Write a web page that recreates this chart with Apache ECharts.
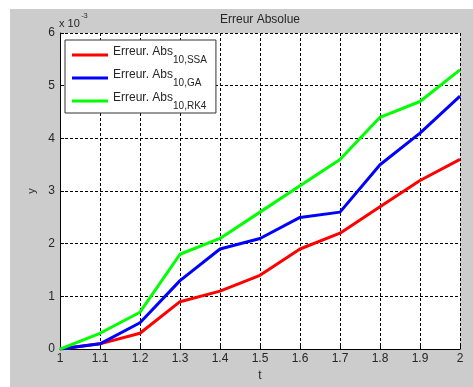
<!DOCTYPE html>
<html>
<head>
<meta charset="utf-8">
<script src="https://cdn.jsdelivr.net/npm/echarts@6/dist/echarts.min.js"></script>
<style>
  html, body { margin: 0; padding: 0; background: #ffffff; }
  #fig {
    position: absolute;
    left: 10px;
    top: 9px;
    width: 463px;
    height: 378px;
    background: #cccccc;
  }
</style>
</head>
<body>
<div id="fig"></div>
<script>
// t values and errors (units of 1e-3)
const tVals = [1, 1.1, 1.2, 1.3, 1.4, 1.5, 1.6, 1.7, 1.8, 1.9, 2];
const errSSA = [0, 0.1, 0.3, 0.9, 1.1, 1.4, 1.9, 2.2, 2.7, 3.2, 3.6];
const errGA = [0, 0.1, 0.5, 1.3, 1.9, 2.1, 2.5, 2.6, 3.5, 4.1, 4.8];
const errRK4 = [0, 0.3, 0.7, 1.8, 2.1, 2.6, 3.1, 3.6, 4.4, 4.7, 5.3];
const seriesNames = ["SSA", "GA", "RK4"];
const seriesColors = ["#ff0000", "#0000ff", "#00ff00"];

const FONT = "'Liberation Sans', Arial, sans-serif";
const TXT = "#262626";

const chart = echarts.init(document.getElementById("fig"));

const pairs = (ys) => tVals.map((t, i) => [t, ys[i]]);
const allData = [errSSA, errGA, errRK4];

const gridLine = { show: true, lineStyle: { color: "#000", type: [3, 2], width: 1 } };

const options = {
  animation: false,
  textStyle: { fontFamily: FONT },
  grid: {
    left: 50,
    top: 24,
    right: 13,
    bottom: 36,
    show: true,
    backgroundColor: "#ffffff",
    borderWidth: 0,
  },
  legend: {
    orient: "vertical",
    left: 55,
    top: 31,
    backgroundColor: "#ffffff",
    borderColor: "#333",
    borderWidth: 1,
    borderRadius: 0,
    padding: [5, 9, 2, 7],
    itemGap: 3,
    itemWidth: 36,
    itemHeight: 3,
    icon: "rect",
    data: seriesNames.map((s) => "Abs" + s),
    formatter: (name) => "{m|Erreur. Abs}{s|10," + name.slice(3) + "}",
    textStyle: {
      color: TXT,
      fontFamily: FONT,
      rich: {
        // equal box heights so the padding alone shifts the subscript down
        m: { fontSize: 12, color: TXT, fontFamily: FONT, lineHeight: 14, verticalAlign: "middle", padding: [0, 0, 6, 0] },
        s: { fontSize: 10, color: TXT, fontFamily: FONT, lineHeight: 10, verticalAlign: "middle", padding: [10, 0, 0, 0] },
      },
    },
  },
  xAxis: {
    type: "value",
    min: 1,
    max: 2,
    interval: 0.1,
    name: "t",
    nameLocation: "middle",
    nameGap: 20,
    nameTextStyle: { fontSize: 12, color: TXT, fontFamily: FONT },
    axisLine: { lineStyle: { color: "#000", width: 1 } },
    axisTick: { inside: true, length: 4, lineStyle: { color: "#000" } },
    axisLabel: {
      color: TXT,
      fontSize: 12,
      margin: 4,
      fontFamily: FONT,
      formatter: (v) => String(Math.round(v * 10) / 10),
    },
    splitLine: gridLine,
  },
  yAxis: {
    type: "value",
    min: 0,
    max: 6,
    interval: 1,
    name: "y",
    nameLocation: "middle",
    nameGap: 19,
    nameRotate: 90,
    nameTextStyle: { fontSize: 11, color: TXT, fontFamily: FONT },
    axisLine: { show: true, lineStyle: { color: "#000", width: 1 } },
    axisTick: { show: true, inside: true, length: 4, lineStyle: { color: "#000" } },
    axisLabel: { color: TXT, fontSize: 12, margin: 5, fontFamily: FONT },
    splitLine: gridLine,
  },
  graphic: [
    {
      type: "text",
      x: 250,
      y: 11,
      style: {
        text: "Erreur Absolue",
        fontSize: 12,
        fontFamily: FONT,
        fill: TXT,
        align: "center",
        verticalAlign: "middle",
      },
    },
    {
      type: "text",
      x: 49,
      y: 14.5,
      style: {
        text: "x 10",
        fontSize: 11,
        fontFamily: FONT,
        fill: TXT,
        align: "left",
        verticalAlign: "middle",
      },
    },
    {
      type: "text",
      x: 71.5,
      y: 7.5,
      style: {
        text: "-3",
        fontSize: 7,
        fontFamily: FONT,
        fill: TXT,
        align: "left",
        verticalAlign: "middle",
      },
    },
  ],
  series: seriesNames.map((s, i) => ({
    name: "Abs" + s,
    type: "line",
    data: pairs(allData[i]),
    showSymbol: false,
    symbol: "none",
    lineStyle: { color: seriesColors[i], width: 3 },
    itemStyle: { color: seriesColors[i] },
  })),
};

chart.setOption(options);
</script>
</body>
</html>
